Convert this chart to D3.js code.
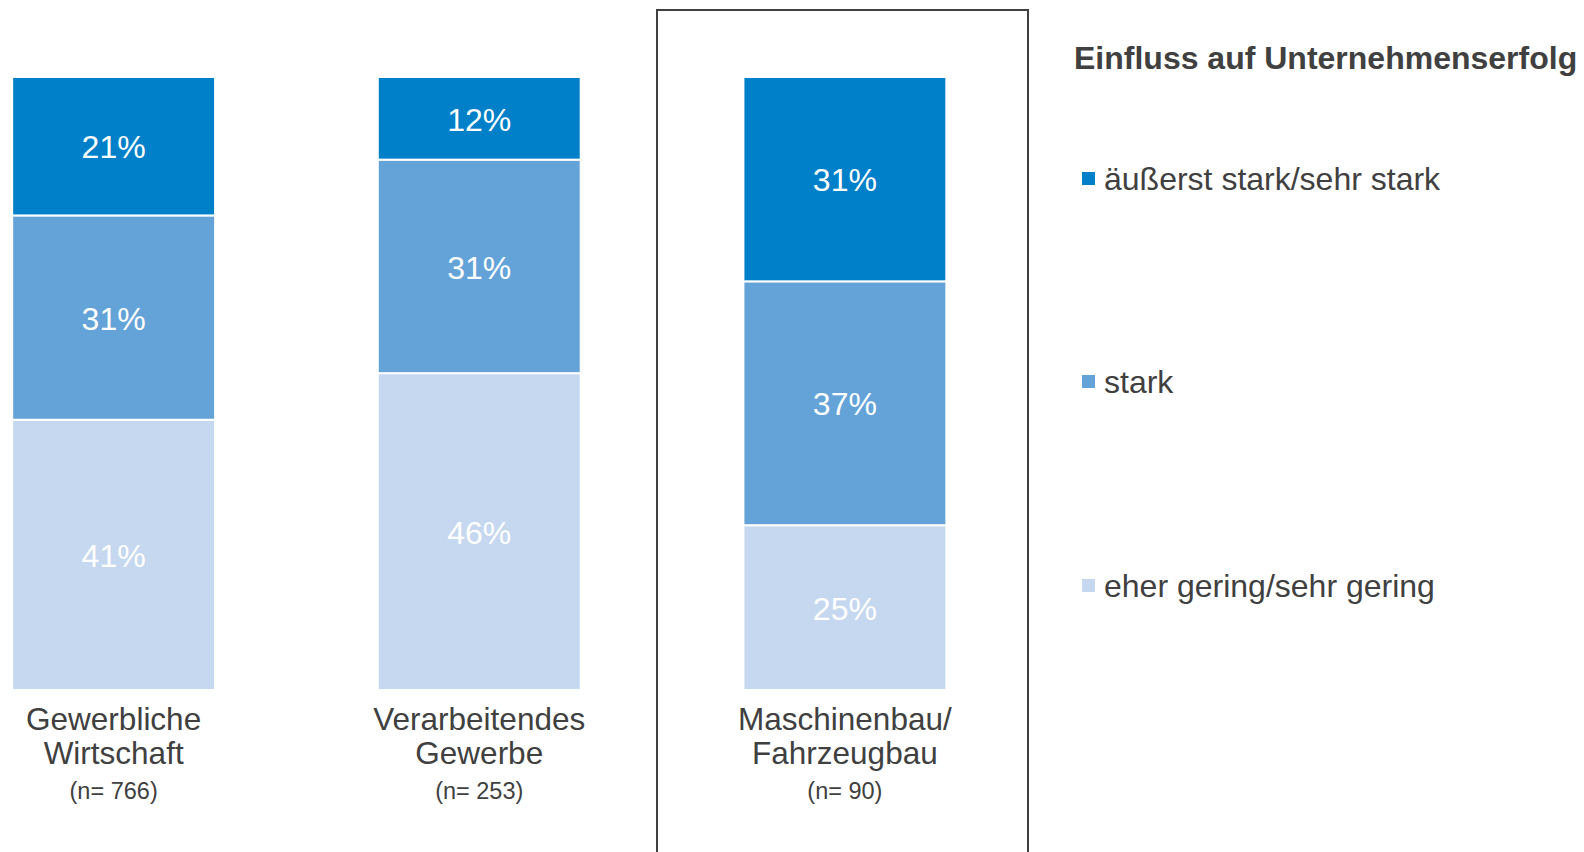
<!DOCTYPE html>
<html>
<head>
<meta charset="utf-8">
<script src="https://cdn.jsdelivr.net/npm/d3@7"></script>
<style>
  body { margin: 0; background: #fff; }
  svg { display: block; font-family: "Liberation Sans", Arial, sans-serif; }
</style>
</head>
<body>
<div class="canvas"></div>
<script>
const categories = [['Gewerbliche', 'Wirtschaft'], ['Verarbeitendes', 'Gewerbe'], ['Maschinenbau/', 'Fahrzeugbau']];
const sampleSizes = ['(n= 766)', '(n= 253)', '(n= 90)'];
const seriesNames = ['eher gering/sehr gering', 'stark', 'äußerst stark/sehr stark'];
const gering = [41, 46, 25];
const stark = [31, 31, 37];
const aeusserst = [21, 12, 31];
const legendTitle = 'Einfluss auf Unternehmenserfolg';

const dims = { width: 1584, height: 852 };
const colours = ['#c5d8f0', '#63a3d8', '#0080c8'];
const textCol = '#404040';

const svg = d3.select('.canvas')
    .append('svg')
    .attr('width', dims.width)
    .attr('height', dims.height)
;

const keys = categories.map(c => c.join(' '));
const rows = keys.map((k, i) => ({ key: k, s0: gering[i], s1: stark[i], s2: aeusserst[i] }));

// shares are normalised per bar
const stack = d3.stack()
    .keys(['s0', 's1', 's2'])
    .offset(d3.stackOffsetExpand)
;
const layers = stack(rows);

const x = d3.scaleBand()
    .domain(keys)
    .range([-69, 1027.5])
    .paddingInner(0.445)
    .paddingOuter(0.222)
;

const y = d3.scaleLinear()
    .domain([0, 1])
    .range([690, 77])
;

// frame around the highlighted branch
svg.append('rect')
    .attr('x', 657)
    .attr('y', 10)
    .attr('width', 371)
    .attr('height', 900)
    .attr('fill', 'none')
    .attr('stroke', textCol)
    .attr('stroke-width', 2)
;

const groups = svg.selectAll('g.layer')
    .data(layers)
    .enter()
    .append('g')
    .attr('class', 'layer')
    .attr('fill', (d, i) => colours[i])
;

groups.selectAll('rect')
    .data(d => d.map(v => ({ v, key: v.data.key })))
    .enter()
    .append('rect')
    .attr('x', d => x(d.key))
    .attr('width', x.bandwidth())
    .attr('y', d => y(d.v[1]))
    .attr('height', d => y(d.v[0]) - y(d.v[1]))
    .attr('stroke', 'white')
    .attr('stroke-width', 2)
;

const rawValues = [gering, stark, aeusserst];
groups.each(function (layer, li) {
    d3.select(this).selectAll('text')
        .data(layer)
        .enter()
        .append('text')
        .attr('x', d => x(d.data.key) + x.bandwidth() / 2)
        .attr('y', d => (y(d[0]) + y(d[1])) / 2 + 1)
        .attr('dy', '0.35em')
        .attr('text-anchor', 'middle')
        .attr('fill', 'white')
        .attr('font-size', 32)
        .text((d, i) => rawValues[li][i] + '%');
});

// category labels
const labels = svg.selectAll('g.cat')
    .data(categories)
    .enter()
    .append('g')
    .attr('class', 'cat')
    .attr('transform', (d, i) => `translate(${x(keys[i]) + x.bandwidth() / 2}, 0)`)
;

labels.each(function (d, i) {
    const g = d3.select(this);
    d.forEach((line, j) => {
        g.append('text')
            .attr('y', 730 + j * 34)
            .attr('text-anchor', 'middle')
            .attr('fill', textCol)
            .attr('font-size', 31.5)
            .text(line);
    });
    g.append('text')
        .attr('y', 799)
        .attr('text-anchor', 'middle')
        .attr('fill', textCol)
        .attr('font-size', 23.5)
        .text(sampleSizes[i]);
});

// legend
const legend = svg.append('g')
    .attr('transform', 'translate(1074, 0)')
;

legend.append('text')
    .attr('y', 69)
    .attr('fill', textCol)
    .attr('font-size', 32)
    .attr('font-weight', 'bold')
    .text(legendTitle);

const legendY = [179, 382, 586];
const items = legend.selectAll('g.item')
    .data(seriesNames.slice().reverse())
    .enter()
    .append('g')
    .attr('class', 'item')
    .attr('transform', (d, i) => `translate(0, ${legendY[i]})`)
;

items.append('rect')
    .attr('x', 8)
    .attr('y', -7)
    .attr('width', 13)
    .attr('height', 13)
    .attr('fill', (d, i) => colours[2 - i])
;

items.append('text')
    .attr('x', 30)
    .attr('dy', '0.35em')
    .attr('fill', textCol)
    .attr('font-size', 32)
    .text(d => d);
</script>
</body>
</html>
